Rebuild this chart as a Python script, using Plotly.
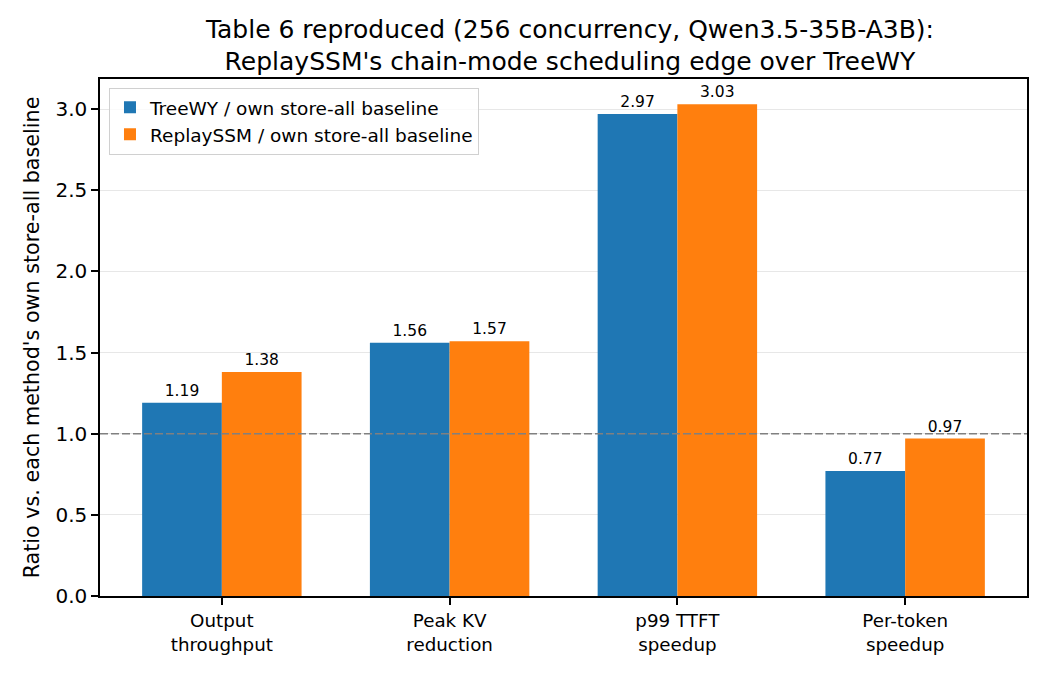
import plotly.graph_objects as go

# data
categories = ["Output<br>throughput", "Peak KV<br>reduction", "p99 TTFT<br>speedup", "Per-token<br>speedup"]
treewy = [1.19, 1.56, 2.97, 0.77]
replayssm = [1.38, 1.57, 3.03, 0.97]
ytick_vals = [0.0, 0.5, 1.0, 1.5, 2.0, 2.5, 3.0]

FONT = "DejaVu Sans"

fig = go.Figure()

fig.add_trace(go.Bar(
    x=categories, y=treewy,
    name="TreeWY / own store-all baseline",
    marker=dict(color="#1f77b4", line=dict(width=0)),
    text=[f"{v:.2f}" for v in treewy],
    textposition="outside",
    textfont=dict(size=15.5, color="black", family=FONT),
    cliponaxis=False,
))

fig.add_trace(go.Bar(
    x=categories, y=replayssm,
    name="ReplaySSM / own store-all baseline",
    marker=dict(color="#ff7f0e", line=dict(width=0)),
    text=[f"{v:.2f}" for v in replayssm],
    textposition="outside",
    textfont=dict(size=15.5, color="black", family=FONT),
    cliponaxis=False,
))

# reference line at ratio 1.0
fig.add_hline(y=1.0, line=dict(color="#808080", width=1.5, dash="8px,3px"), layer="above")

# page body adds an 8px margin, so the figure is sized to fit inside it
fig.update_layout(
    width=1034, height=659,
    margin=dict(l=92, r=15, t=71, b=71),
    paper_bgcolor="white", plot_bgcolor="white",
    font=dict(family=FONT, color="black"),
    barmode="group", bargap=0.3, bargroupgap=0.0,
    title=dict(
        text="Table 6 reproduced (256 concurrency, Qwen3.5-35B-A3B):<br>ReplaySSM's chain-mode scheduling edge over TreeWY",
        x=0.5435, xanchor="center", y=0.9545, yanchor="top",
        font=dict(size=25, family=FONT, color="black"),
    ),
    legend=dict(
        x=0.0097, y=0.983, xanchor="left", yanchor="top",
        bgcolor="rgba(255,255,255,0.8)", bordercolor="#d0d0d0", borderwidth=1,
        font=dict(size=18.5, family=FONT),
    ),
    showlegend=True,
)

fig.update_xaxes(
    range=[-0.535, 3.535],
    showline=True, linecolor="black", linewidth=1.5, mirror=True,
    ticks="outside", ticklen=7, tickcolor="black", tickwidth=1.5,
    tickfont=dict(size=18.3, family=FONT),
    showgrid=False,
)

fig.update_yaxes(
    range=[0, 3.185],
    tickvals=ytick_vals, tickformat=".1f",
    showline=True, linecolor="black", linewidth=1.5, mirror=True,
    ticks="outside", ticklen=7, tickcolor="black", tickwidth=1.5,
    tickfont=dict(size=20, family=FONT),
    showgrid=True, gridcolor="rgba(176,176,176,0.3)", gridwidth=1.2,
    layer="above traces",
    zeroline=False,
    title=dict(text="Ratio vs. each method's own store-all baseline", font=dict(size=20.7, family=FONT), standoff=10),
)

fig.write_html("out.html")
